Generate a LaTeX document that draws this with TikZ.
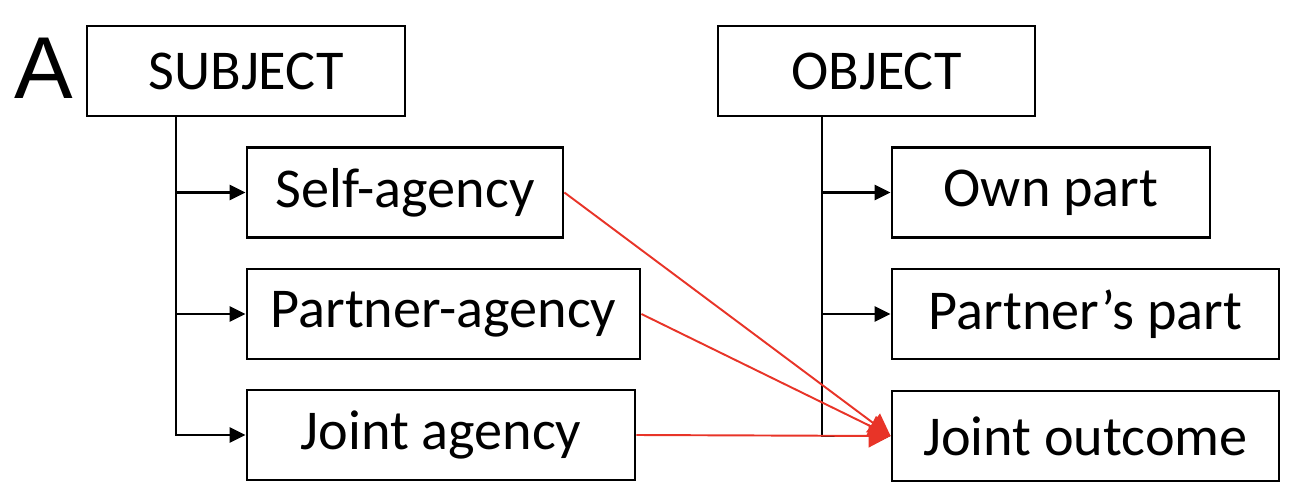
\documentclass[tikz,border=0pt]{standalone}
\usepackage{fontspec}
\setmainfont{Carlito}
\newfontfamily\labelfont{Liberation Sans}
\usepackage{tikz}
\usetikzlibrary{arrows.meta}
\definecolor{linkred}{RGB}{232,52,40}

\begin{document}
\begin{tikzpicture}[
        box/.style={draw, line width=1.6pt, inner sep=0pt, minimum height=1.8cm, font=\fontsize{32}{38}\selectfont},
        branch/.style={line width=1.6pt, -{Triangle[length=0.32cm, width=0.3cm]}},
        link/.style={linkred, line width=1.1pt, -{Triangle[length=0.44cm, width=0.46cm]}}
    ]
        \useasboundingbox (0, 0) rectangle (25.92, -9.96);
        \node (panel) at (0.87, -1.37) {\labelfont\fontsize{50}{60}\selectfont A};
        \node[box, minimum width=6.36cm] (subject) at (4.92, -1.42) {SUBJECT};
        \node[box, minimum width=6.32cm] (self) at (8.10, -3.85) {Self-agency};
        \node[box, minimum width=7.86cm] (partner) at (8.87, -6.28) {Partner-agency};
        \node[box, minimum width=7.76cm] (joint) at (8.82, -8.70) {Joint agency};
        \node[box, minimum width=6.34cm] (object) at (17.53, -1.42) {OBJECT};
        \node[box, minimum width=6.36cm] (own) at (21.02, -3.85) {Own part};
        \node[box, minimum width=7.74cm] (partpart) at (21.71, -6.28) {Partner’s part};
        \node[box, minimum width=7.74cm] (outcome) at (21.71, -8.72) {Joint outcome};
        \coordinate (strunk) at (3.52, 0);
        \coordinate (otrunk) at (16.44, 0);
        \draw[line width=1.6pt] (subject.south -| strunk) -- (joint.west -| strunk);
        \draw[branch] (self.west -| strunk) -- (self.west);
        \draw[branch] (partner.west -| strunk) -- (partner.west);
        \draw[branch] (subject.south -| strunk) |- (joint.west);
        \draw[branch] (own.west -| otrunk) -- (own.west);
        \draw[branch] (partpart.west -| otrunk) -- (partpart.west);
        \draw[branch] (object.south -| otrunk) |- (outcome.west);
        \draw[link] (self.east) -- (outcome.west);
        \draw[link] (partner.east) -- (outcome.west);
        \draw[link] (joint.east) -- (outcome.west);
    \end{tikzpicture}
\end{document}
